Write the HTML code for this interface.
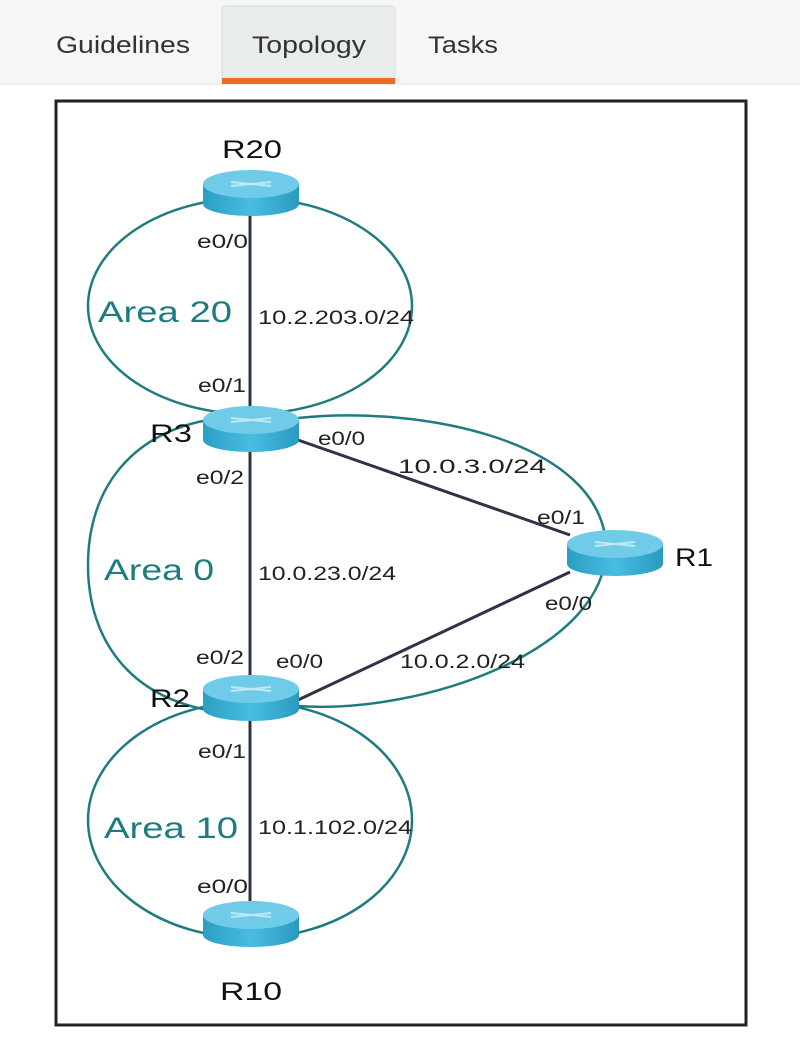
<!DOCTYPE html>
<html><head><meta charset="utf-8"><style>
body{margin:0;width:800px;height:1035px;background:#fff;overflow:hidden;font-family:"Liberation Sans",sans-serif}
</style></head><body>
<svg width="800" height="1035" viewBox="0 0 800 1035" xmlns="http://www.w3.org/2000/svg" font-family="Liberation Sans, sans-serif">
<defs>
<linearGradient id="bd" x1="0" x2="1" y1="0" y2="0">
<stop offset="0" stop-color="#2a9fc4"/><stop offset="0.5" stop-color="#48bde0"/><stop offset="1" stop-color="#2a9ac0"/>
</linearGradient>
<g id="rt">
<path d="M-48,-8 L-48,12 A48,12 0 0 0 48,12 L48,-8 Z" fill="url(#bd)"/>
<ellipse cx="0" cy="-8" rx="48" ry="14" fill="#6fcbe8"/>
<path d="M-20,-10 L20,-6 M20,-10 L-20,-6" stroke="#bfe9f6" stroke-width="2"/>
</g>
</defs>
<rect x="0" y="0" width="800" height="84" fill="#f6f6f6"/>
<line x1="0" y1="84" x2="800" y2="84" stroke="#e2e2e2"/>
<rect x="222" y="6" width="173" height="78" rx="3" fill="#e9eced" stroke="#d8dcdd"/>
<rect x="222" y="78" width="173" height="6" fill="#ee6a22"/>
<text x="56" y="53" font-size="24" fill="#333" textLength="134" lengthAdjust="spacingAndGlyphs">Guidelines</text>
<text x="252" y="53" font-size="24" fill="#333" textLength="114" lengthAdjust="spacingAndGlyphs">Topology</text>
<text x="428" y="53" font-size="24" fill="#333" textLength="70" lengthAdjust="spacingAndGlyphs">Tasks</text>
<rect x="56" y="101" width="690" height="924" fill="none" stroke="#222" stroke-width="3"/>
<g fill="none" stroke="#1e7c80" stroke-width="2.5">
<ellipse cx="250" cy="306" rx="162" ry="108"/>
<path d="M220,418 C130,430 88,490 88,565 C88,640 130,700 220,712"/>
<ellipse cx="250" cy="820" rx="162" ry="118"/>
<path d="M298,418 C420,405 600,440 606,545 C610,650 420,715 298,706"/>
</g>
<g stroke="#2e3448" stroke-width="3">
<line x1="250" y1="200" x2="250" y2="920"/>
<line x1="298" y1="440" x2="570" y2="535"/>
<line x1="298" y1="700" x2="570" y2="572"/>
</g>
<use href="#rt" x="251" y="192"/>
<use href="#rt" x="251" y="428"/>
<use href="#rt" x="615" y="552"/>
<use href="#rt" x="251" y="697"/>
<use href="#rt" x="251" y="923"/>
<g font-size="25" fill="#111">
<text x="222" y="158" textLength="60" lengthAdjust="spacingAndGlyphs">R20</text>
<text x="150" y="442" textLength="42" lengthAdjust="spacingAndGlyphs">R3</text>
<text x="675" y="566" textLength="38" lengthAdjust="spacingAndGlyphs">R1</text>
<text x="150" y="707" textLength="40" lengthAdjust="spacingAndGlyphs">R2</text>
<text x="220" y="1000" textLength="62" lengthAdjust="spacingAndGlyphs">R10</text>
</g>
<g font-size="30" fill="#1e7c80">
<text x="98" y="322" textLength="134" lengthAdjust="spacingAndGlyphs">Area 20</text>
<text x="104" y="580" textLength="110" lengthAdjust="spacingAndGlyphs">Area 0</text>
<text x="104" y="838" textLength="134" lengthAdjust="spacingAndGlyphs">Area 10</text>
</g>
<g font-size="19" fill="#222">
<text x="197" y="248" textLength="51" lengthAdjust="spacingAndGlyphs">e0/0</text>
<text x="258" y="324" textLength="156" lengthAdjust="spacingAndGlyphs">10.2.203.0/24</text>
<text x="198" y="392" textLength="48" lengthAdjust="spacingAndGlyphs">e0/1</text>
<text x="318" y="445" textLength="47" lengthAdjust="spacingAndGlyphs">e0/0</text>
<text x="196" y="484" textLength="48" lengthAdjust="spacingAndGlyphs">e0/2</text>
<text x="398" y="473" textLength="148" lengthAdjust="spacingAndGlyphs">10.0.3.0/24</text>
<text x="537" y="524" textLength="48" lengthAdjust="spacingAndGlyphs">e0/1</text>
<text x="258" y="580" textLength="138" lengthAdjust="spacingAndGlyphs">10.0.23.0/24</text>
<text x="545" y="610" textLength="47" lengthAdjust="spacingAndGlyphs">e0/0</text>
<text x="196" y="664" textLength="48" lengthAdjust="spacingAndGlyphs">e0/2</text>
<text x="276" y="668" textLength="47" lengthAdjust="spacingAndGlyphs">e0/0</text>
<text x="400" y="668" textLength="125" lengthAdjust="spacingAndGlyphs">10.0.2.0/24</text>
<text x="198" y="758" textLength="48" lengthAdjust="spacingAndGlyphs">e0/1</text>
<text x="258" y="834" textLength="154" lengthAdjust="spacingAndGlyphs">10.1.102.0/24</text>
<text x="197" y="893" textLength="51" lengthAdjust="spacingAndGlyphs">e0/0</text>
</g>
</svg>
</body></html>
